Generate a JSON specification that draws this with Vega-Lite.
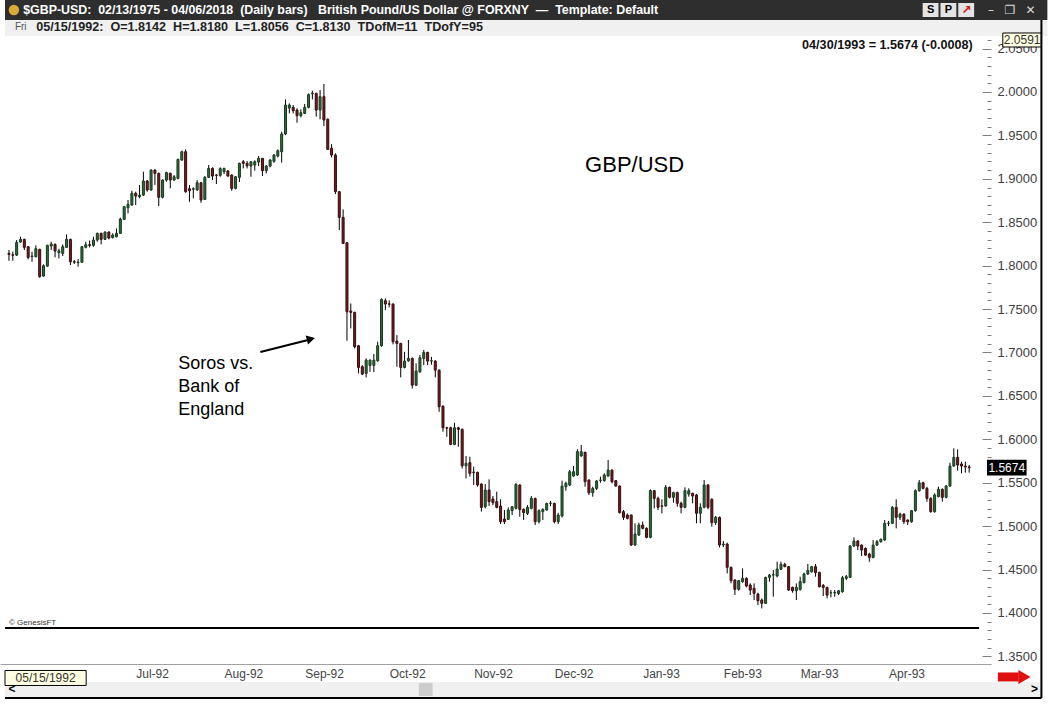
{
"$schema": "https://vega.github.io/schema/vega-lite/v6.json",
"width": 991, "height": 628,
"autosize": {"type": "none"},
"padding": {"left": 0, "top": 36, "right": 62, "bottom": 41},
"background": "#ffffff",
"config": {"view": {"stroke": null}, "font": "Liberation Sans"},
"datasets": {"bars": [
{"t":0,"o":1.8142,"h":1.8180,"l":1.8056,"c":1.8130},
{"t":1,"o":1.8125,"h":1.8161,"l":1.8057,"c":1.8120},
{"t":2,"o":1.8122,"h":1.8295,"l":1.8111,"c":1.8268},
{"t":3,"o":1.8272,"h":1.8333,"l":1.8264,"c":1.8303},
{"t":4,"o":1.8303,"h":1.8310,"l":1.8180,"c":1.8211},
{"t":5,"o":1.8218,"h":1.8226,"l":1.8072,"c":1.8095},
{"t":6,"o":1.8105,"h":1.8161,"l":1.8045,"c":1.8111},
{"t":7,"o":1.8103,"h":1.8234,"l":1.8095,"c":1.8195},
{"t":8,"o":1.8187,"h":1.8195,"l":1.7861,"c":1.7873},
{"t":9,"o":1.7880,"h":1.8015,"l":1.7873,"c":1.7999},
{"t":10,"o":1.7995,"h":1.8241,"l":1.7988,"c":1.8234},
{"t":11,"o":1.8226,"h":1.8276,"l":1.8180,"c":1.8249},
{"t":12,"o":1.8245,"h":1.8257,"l":1.8095,"c":1.8168},
{"t":13,"o":1.8150,"h":1.8195,"l":1.8084,"c":1.8170},
{"t":14,"o":1.8141,"h":1.8245,"l":1.8111,"c":1.8218},
{"t":15,"o":1.8211,"h":1.8360,"l":1.8207,"c":1.8303},
{"t":16,"o":1.8303,"h":1.8310,"l":1.8007,"c":1.8045},
{"t":17,"o":1.8045,"h":1.8065,"l":1.8019,"c":1.8040},
{"t":18,"o":1.8035,"h":1.8076,"l":1.7988,"c":1.8040},
{"t":19,"o":1.8038,"h":1.8226,"l":1.8034,"c":1.8218},
{"t":20,"o":1.8211,"h":1.8276,"l":1.8199,"c":1.8241},
{"t":21,"o":1.8241,"h":1.8290,"l":1.8210,"c":1.8234},
{"t":22,"o":1.8234,"h":1.8333,"l":1.8218,"c":1.8295},
{"t":23,"o":1.8295,"h":1.8380,"l":1.8276,"c":1.8372},
{"t":24,"o":1.8372,"h":1.8380,"l":1.8245,"c":1.8303},
{"t":25,"o":1.8303,"h":1.8395,"l":1.8295,"c":1.8387},
{"t":26,"o":1.8387,"h":1.8395,"l":1.8303,"c":1.8318},
{"t":27,"o":1.8322,"h":1.8372,"l":1.8314,"c":1.8353},
{"t":28,"o":1.8333,"h":1.8429,"l":1.8326,"c":1.8372},
{"t":29,"o":1.8372,"h":1.8552,"l":1.8364,"c":1.8537},
{"t":30,"o":1.8533,"h":1.8687,"l":1.8525,"c":1.8679},
{"t":31,"o":1.8667,"h":1.8756,"l":1.8602,"c":1.8706},
{"t":32,"o":1.8698,"h":1.8863,"l":1.8690,"c":1.8833},
{"t":33,"o":1.8833,"h":1.8852,"l":1.8698,"c":1.8802},
{"t":34,"o":1.8794,"h":1.8929,"l":1.8775,"c":1.8813},
{"t":35,"o":1.8813,"h":1.9082,"l":1.8802,"c":1.8975},
{"t":36,"o":1.8975,"h":1.8986,"l":1.8852,"c":1.8871},
{"t":37,"o":1.8871,"h":1.9109,"l":1.8863,"c":1.9101},
{"t":38,"o":1.9101,"h":1.9109,"l":1.8929,"c":1.9063},
{"t":39,"o":1.9063,"h":1.9071,"l":1.8687,"c":1.8787},
{"t":40,"o":1.8787,"h":1.8994,"l":1.8775,"c":1.8986},
{"t":41,"o":1.8986,"h":1.9082,"l":1.8967,"c":1.9071},
{"t":42,"o":1.9063,"h":1.9071,"l":1.8890,"c":1.8986},
{"t":43,"o":1.8986,"h":1.9044,"l":1.8978,"c":1.9024},
{"t":44,"o":1.9005,"h":1.9232,"l":1.8994,"c":1.9224},
{"t":45,"o":1.9216,"h":1.9324,"l":1.9209,"c":1.9312},
{"t":46,"o":1.9312,"h":1.9339,"l":1.8840,"c":1.8852},
{"t":47,"o":1.8886,"h":1.8928,"l":1.8736,"c":1.8863},
{"t":48,"o":1.8880,"h":1.8902,"l":1.8775,"c":1.8886},
{"t":49,"o":1.8871,"h":1.8986,"l":1.8863,"c":1.8955},
{"t":50,"o":1.8955,"h":1.8963,"l":1.8725,"c":1.8756},
{"t":51,"o":1.8763,"h":1.9032,"l":1.8756,"c":1.9017},
{"t":52,"o":1.9017,"h":1.9159,"l":1.9009,"c":1.9120},
{"t":53,"o":1.9120,"h":1.9132,"l":1.8986,"c":1.9032},
{"t":54,"o":1.9044,"h":1.9055,"l":1.8940,"c":1.9040},
{"t":55,"o":1.9040,"h":1.9132,"l":1.9024,"c":1.9117},
{"t":56,"o":1.9082,"h":1.9128,"l":1.9055,"c":1.9120},
{"t":57,"o":1.9090,"h":1.9101,"l":1.9024,"c":1.9032},
{"t":58,"o":1.9044,"h":1.9051,"l":1.8863,"c":1.8890},
{"t":59,"o":1.8890,"h":1.9032,"l":1.8878,"c":1.9024},
{"t":60,"o":1.9017,"h":1.9186,"l":1.8963,"c":1.9178},
{"t":61,"o":1.9197,"h":1.9216,"l":1.9120,"c":1.9178},
{"t":62,"o":1.9178,"h":1.9205,"l":1.9120,"c":1.9150},
{"t":63,"o":1.9147,"h":1.9201,"l":1.9024,"c":1.9197},
{"t":64,"o":1.9159,"h":1.9213,"l":1.9094,"c":1.9197},
{"t":65,"o":1.9193,"h":1.9262,"l":1.9147,"c":1.9236},
{"t":66,"o":1.9236,"h":1.9240,"l":1.9032,"c":1.9094},
{"t":67,"o":1.9094,"h":1.9159,"l":1.9063,"c":1.9147},
{"t":68,"o":1.9147,"h":1.9228,"l":1.9132,"c":1.9216},
{"t":69,"o":1.9201,"h":1.9286,"l":1.9186,"c":1.9274},
{"t":70,"o":1.9262,"h":1.9339,"l":1.9247,"c":1.9324},
{"t":71,"o":1.9312,"h":1.9543,"l":1.9186,"c":1.9516},
{"t":72,"o":1.9516,"h":1.9915,"l":1.9504,"c":1.9850},
{"t":73,"o":1.9815,"h":1.9869,"l":1.9754,"c":1.9850},
{"t":74,"o":1.9823,"h":1.9850,"l":1.9754,"c":1.9785},
{"t":75,"o":1.9792,"h":1.9812,"l":1.9646,"c":1.9727},
{"t":76,"o":1.9727,"h":1.9800,"l":1.9708,"c":1.9762},
{"t":77,"o":1.9754,"h":1.9862,"l":1.9746,"c":1.9823},
{"t":78,"o":1.9823,"h":1.9984,"l":1.9812,"c":1.9969},
{"t":79,"o":1.9980,"h":2.0015,"l":1.9915,"c":1.9988},
{"t":80,"o":1.9984,"h":1.9992,"l":1.9716,"c":1.9792},
{"t":81,"o":1.9792,"h":2.0023,"l":1.9685,"c":1.9946},
{"t":82,"o":1.9946,"h":2.0092,"l":1.9608,"c":1.9677},
{"t":83,"o":1.9685,"h":1.9696,"l":1.9332,"c":1.9339},
{"t":84,"o":1.9351,"h":1.9400,"l":1.9247,"c":1.9274},
{"t":85,"o":1.9274,"h":1.9293,"l":1.8825,"c":1.8852},
{"t":86,"o":1.8852,"h":1.8859,"l":1.8410,"c":1.8556},
{"t":87,"o":1.8556,"h":1.8648,"l":1.8249,"c":1.8256},
{"t":88,"o":1.8264,"h":1.8272,"l":1.7135,"c":1.7469},
{"t":89,"o":1.7477,"h":1.7565,"l":1.7277,"c":1.7462},
{"t":90,"o":1.7462,"h":1.7469,"l":1.7047,"c":1.7066},
{"t":91,"o":1.7078,"h":1.7085,"l":1.6759,"c":1.6828},
{"t":92,"o":1.6836,"h":1.6855,"l":1.6740,"c":1.6751},
{"t":93,"o":1.6759,"h":1.6932,"l":1.6713,"c":1.6912},
{"t":94,"o":1.6851,"h":1.6920,"l":1.6778,"c":1.6912},
{"t":95,"o":1.6851,"h":1.6982,"l":1.6774,"c":1.6912},
{"t":96,"o":1.6905,"h":1.7124,"l":1.6893,"c":1.7078},
{"t":97,"o":1.7078,"h":1.7623,"l":1.7066,"c":1.7611},
{"t":98,"o":1.7596,"h":1.7623,"l":1.7488,"c":1.7558},
{"t":99,"o":1.7560,"h":1.7600,"l":1.7520,"c":1.7556},
{"t":100,"o":1.7558,"h":1.7565,"l":1.7093,"c":1.7124},
{"t":101,"o":1.7131,"h":1.7200,"l":1.6836,"c":1.7104},
{"t":102,"o":1.7104,"h":1.7112,"l":1.6713,"c":1.6828},
{"t":103,"o":1.6828,"h":1.7008,"l":1.6816,"c":1.6901},
{"t":104,"o":1.6905,"h":1.7143,"l":1.6893,"c":1.6932},
{"t":105,"o":1.6932,"h":1.6943,"l":1.6586,"c":1.6624},
{"t":106,"o":1.6624,"h":1.6874,"l":1.6613,"c":1.6786},
{"t":107,"o":1.6778,"h":1.6970,"l":1.6766,"c":1.6939},
{"t":108,"o":1.6932,"h":1.7028,"l":1.6855,"c":1.7001},
{"t":109,"o":1.7001,"h":1.7008,"l":1.6855,"c":1.6901},
{"t":110,"o":1.6901,"h":1.6950,"l":1.6860,"c":1.6905},
{"t":111,"o":1.6901,"h":1.6912,"l":1.6713,"c":1.6797},
{"t":112,"o":1.6797,"h":1.6805,"l":1.6317,"c":1.6375},
{"t":113,"o":1.6382,"h":1.6390,"l":1.6087,"c":1.6133},
{"t":114,"o":1.6133,"h":1.6144,"l":1.6029,"c":1.6129},
{"t":115,"o":1.6133,"h":1.6144,"l":1.5933,"c":1.5941},
{"t":116,"o":1.5941,"h":1.6190,"l":1.5933,"c":1.6133},
{"t":117,"o":1.6133,"h":1.6144,"l":1.5914,"c":1.6114},
{"t":118,"o":1.6114,"h":1.6125,"l":1.5664,"c":1.5695},
{"t":119,"o":1.5695,"h":1.5808,"l":1.5549,"c":1.5723},
{"t":120,"o":1.5731,"h":1.5800,"l":1.5570,"c":1.5608},
{"t":121,"o":1.5622,"h":1.5685,"l":1.5474,"c":1.5618},
{"t":122,"o":1.5620,"h":1.5627,"l":1.5455,"c":1.5474},
{"t":123,"o":1.5485,"h":1.5493,"l":1.5167,"c":1.5216},
{"t":124,"o":1.5224,"h":1.5485,"l":1.5205,"c":1.5416},
{"t":125,"o":1.5416,"h":1.5539,"l":1.5232,"c":1.5282},
{"t":126,"o":1.5313,"h":1.5347,"l":1.5243,"c":1.5270},
{"t":127,"o":1.5282,"h":1.5397,"l":1.5205,"c":1.5216},
{"t":128,"o":1.5232,"h":1.5309,"l":1.5025,"c":1.5051},
{"t":129,"o":1.5082,"h":1.5186,"l":1.5025,"c":1.5051},
{"t":130,"o":1.5078,"h":1.5216,"l":1.5071,"c":1.5186},
{"t":131,"o":1.5178,"h":1.5232,"l":1.5128,"c":1.5224},
{"t":132,"o":1.5205,"h":1.5493,"l":1.5193,"c":1.5481},
{"t":133,"o":1.5474,"h":1.5481,"l":1.5109,"c":1.5193},
{"t":134,"o":1.5193,"h":1.5205,"l":1.5071,"c":1.5155},
{"t":135,"o":1.5147,"h":1.5243,"l":1.5128,"c":1.5216},
{"t":136,"o":1.5205,"h":1.5347,"l":1.5193,"c":1.5320},
{"t":137,"o":1.5320,"h":1.5328,"l":1.5013,"c":1.5051},
{"t":138,"o":1.5051,"h":1.5193,"l":1.5032,"c":1.5178},
{"t":139,"o":1.5167,"h":1.5205,"l":1.5071,"c":1.5193},
{"t":140,"o":1.5186,"h":1.5270,"l":1.5178,"c":1.5262},
{"t":141,"o":1.5262,"h":1.5290,"l":1.5230,"c":1.5265},
{"t":142,"o":1.5262,"h":1.5270,"l":1.5032,"c":1.5051},
{"t":143,"o":1.5051,"h":1.5155,"l":1.5025,"c":1.5128},
{"t":144,"o":1.5117,"h":1.5524,"l":1.5101,"c":1.5462},
{"t":145,"o":1.5454,"h":1.5512,"l":1.5408,"c":1.5493},
{"t":146,"o":1.5474,"h":1.5646,"l":1.5462,"c":1.5627},
{"t":147,"o":1.5577,"h":1.5693,"l":1.5570,"c":1.5627},
{"t":148,"o":1.5589,"h":1.5885,"l":1.5577,"c":1.5858},
{"t":149,"o":1.5808,"h":1.5935,"l":1.5800,"c":1.5858},
{"t":150,"o":1.5850,"h":1.5858,"l":1.5454,"c":1.5512},
{"t":151,"o":1.5531,"h":1.5539,"l":1.5359,"c":1.5385},
{"t":152,"o":1.5385,"h":1.5455,"l":1.5339,"c":1.5435},
{"t":153,"o":1.5435,"h":1.5531,"l":1.5416,"c":1.5520},
{"t":154,"o":1.5527,"h":1.5570,"l":1.5500,"c":1.5531},
{"t":155,"o":1.5524,"h":1.5608,"l":1.5512,"c":1.5589},
{"t":156,"o":1.5577,"h":1.5762,"l":1.5570,"c":1.5646},
{"t":157,"o":1.5646,"h":1.5654,"l":1.5493,"c":1.5512},
{"t":158,"o":1.5524,"h":1.5531,"l":1.5454,"c":1.5462},
{"t":159,"o":1.5462,"h":1.5470,"l":1.5147,"c":1.5155},
{"t":160,"o":1.5167,"h":1.5186,"l":1.5071,"c":1.5101},
{"t":161,"o":1.5128,"h":1.5147,"l":1.5078,"c":1.5090},
{"t":162,"o":1.5129,"h":1.5129,"l":1.4771,"c":1.4783},
{"t":163,"o":1.4783,"h":1.5032,"l":1.4771,"c":1.4909},
{"t":164,"o":1.4898,"h":1.5040,"l":1.4887,"c":1.5013},
{"t":165,"o":1.5013,"h":1.5052,"l":1.4963,"c":1.4975},
{"t":166,"o":1.4975,"h":1.4986,"l":1.4860,"c":1.4871},
{"t":167,"o":1.4871,"h":1.5424,"l":1.4860,"c":1.5409},
{"t":168,"o":1.5409,"h":1.5417,"l":1.5205,"c":1.5320},
{"t":169,"o":1.5320,"h":1.5340,"l":1.5186,"c":1.5217},
{"t":170,"o":1.5234,"h":1.5309,"l":1.5148,"c":1.5230},
{"t":171,"o":1.5232,"h":1.5474,"l":1.5224,"c":1.5447},
{"t":172,"o":1.5447,"h":1.5455,"l":1.5320,"c":1.5332},
{"t":173,"o":1.5332,"h":1.5397,"l":1.5270,"c":1.5386},
{"t":174,"o":1.5386,"h":1.5397,"l":1.5224,"c":1.5263},
{"t":175,"o":1.5263,"h":1.5282,"l":1.5148,"c":1.5217},
{"t":176,"o":1.5217,"h":1.5447,"l":1.5205,"c":1.5409},
{"t":177,"o":1.5370,"h":1.5436,"l":1.5340,"c":1.5409},
{"t":178,"o":1.5378,"h":1.5386,"l":1.5263,"c":1.5347},
{"t":179,"o":1.5359,"h":1.5370,"l":1.5033,"c":1.5148},
{"t":180,"o":1.5148,"h":1.5263,"l":1.5033,"c":1.5217},
{"t":181,"o":1.5217,"h":1.5532,"l":1.5205,"c":1.5474},
{"t":182,"o":1.5474,"h":1.5486,"l":1.5194,"c":1.5217},
{"t":183,"o":1.5309,"h":1.5320,"l":1.4994,"c":1.5040},
{"t":184,"o":1.5040,"h":1.5117,"l":1.5013,"c":1.5102},
{"t":185,"o":1.5102,"h":1.5110,"l":1.4756,"c":1.4783},
{"t":186,"o":1.4783,"h":1.4830,"l":1.4760,"c":1.4794},
{"t":187,"o":1.4794,"h":1.4810,"l":1.4457,"c":1.4526},
{"t":188,"o":1.4526,"h":1.4533,"l":1.4341,"c":1.4372},
{"t":189,"o":1.4380,"h":1.4387,"l":1.4207,"c":1.4272},
{"t":190,"o":1.4272,"h":1.4380,"l":1.4257,"c":1.4372},
{"t":191,"o":1.4360,"h":1.4514,"l":1.4349,"c":1.4399},
{"t":192,"o":1.4399,"h":1.4410,"l":1.4295,"c":1.4310},
{"t":193,"o":1.4322,"h":1.4341,"l":1.4207,"c":1.4264},
{"t":194,"o":1.4284,"h":1.4341,"l":1.4149,"c":1.4226},
{"t":195,"o":1.4218,"h":1.4234,"l":1.4091,"c":1.4141},
{"t":196,"o":1.4149,"h":1.4168,"l":1.4053,"c":1.4111},
{"t":197,"o":1.4111,"h":1.4418,"l":1.4103,"c":1.4410},
{"t":198,"o":1.4410,"h":1.4449,"l":1.4361,"c":1.4437},
{"t":199,"o":1.4437,"h":1.4495,"l":1.4188,"c":1.4441},
{"t":200,"o":1.4426,"h":1.4591,"l":1.4410,"c":1.4506},
{"t":201,"o":1.4503,"h":1.4591,"l":1.4495,"c":1.4560},
{"t":202,"o":1.4560,"h":1.4579,"l":1.4526,"c":1.4534},
{"t":203,"o":1.4534,"h":1.4541,"l":1.4257,"c":1.4264},
{"t":204,"o":1.4295,"h":1.4303,"l":1.4234,"c":1.4257},
{"t":205,"o":1.4257,"h":1.4341,"l":1.4149,"c":1.4295},
{"t":206,"o":1.4272,"h":1.4418,"l":1.4257,"c":1.4360},
{"t":207,"o":1.4349,"h":1.4464,"l":1.4341,"c":1.4449},
{"t":208,"o":1.4449,"h":1.4564,"l":1.4437,"c":1.4490},
{"t":209,"o":1.4475,"h":1.4540,"l":1.4464,"c":1.4533},
{"t":210,"o":1.4533,"h":1.4564,"l":1.4418,"c":1.4464},
{"t":211,"o":1.4467,"h":1.4475,"l":1.4295,"c":1.4302},
{"t":212,"o":1.4318,"h":1.4333,"l":1.4195,"c":1.4295},
{"t":213,"o":1.4295,"h":1.4302,"l":1.4168,"c":1.4206},
{"t":214,"o":1.4233,"h":1.4264,"l":1.4180,"c":1.4233},
{"t":215,"o":1.4230,"h":1.4264,"l":1.4187,"c":1.4236},
{"t":216,"o":1.4225,"h":1.4264,"l":1.4206,"c":1.4256},
{"t":217,"o":1.4245,"h":1.4425,"l":1.4233,"c":1.4406},
{"t":218,"o":1.4399,"h":1.4437,"l":1.4379,"c":1.4418},
{"t":219,"o":1.4410,"h":1.4782,"l":1.4410,"c":1.4771},
{"t":220,"o":1.4771,"h":1.4871,"l":1.4763,"c":1.4828},
{"t":221,"o":1.4828,"h":1.4840,"l":1.4725,"c":1.4771},
{"t":222,"o":1.4782,"h":1.4790,"l":1.4656,"c":1.4725},
{"t":223,"o":1.4744,"h":1.4755,"l":1.4656,"c":1.4667},
{"t":224,"o":1.4679,"h":1.4694,"l":1.4590,"c":1.4640},
{"t":225,"o":1.4640,"h":1.4840,"l":1.4629,"c":1.4782},
{"t":226,"o":1.4782,"h":1.4840,"l":1.4771,"c":1.4821},
{"t":227,"o":1.4821,"h":1.4859,"l":1.4809,"c":1.4848},
{"t":228,"o":1.4840,"h":1.5070,"l":1.4832,"c":1.5032},
{"t":229,"o":1.5032,"h":1.5060,"l":1.5000,"c":1.5035},
{"t":230,"o":1.5032,"h":1.5232,"l":1.5024,"c":1.5216},
{"t":231,"o":1.5216,"h":1.5309,"l":1.4974,"c":1.5101},
{"t":232,"o":1.5101,"h":1.5155,"l":1.5070,"c":1.5139},
{"t":233,"o":1.5139,"h":1.5147,"l":1.5024,"c":1.5051},
{"t":234,"o":1.5070,"h":1.5078,"l":1.5013,"c":1.5051},
{"t":235,"o":1.5051,"h":1.5186,"l":1.5040,"c":1.5178},
{"t":236,"o":1.5178,"h":1.5424,"l":1.5167,"c":1.5408},
{"t":237,"o":1.5408,"h":1.5531,"l":1.5397,"c":1.5500},
{"t":238,"o":1.5500,"h":1.5512,"l":1.5424,"c":1.5435},
{"t":239,"o":1.5435,"h":1.5454,"l":1.5282,"c":1.5320},
{"t":240,"o":1.5320,"h":1.5332,"l":1.5155,"c":1.5167},
{"t":241,"o":1.5167,"h":1.5378,"l":1.5155,"c":1.5359},
{"t":242,"o":1.5340,"h":1.5454,"l":1.5332,"c":1.5424},
{"t":243,"o":1.5424,"h":1.5435,"l":1.5282,"c":1.5332},
{"t":244,"o":1.5332,"h":1.5474,"l":1.5320,"c":1.5462},
{"t":245,"o":1.5462,"h":1.5731,"l":1.5454,"c":1.5692},
{"t":246,"o":1.5692,"h":1.5896,"l":1.5685,"c":1.5792},
{"t":247,"o":1.5792,"h":1.5884,"l":1.5639,"c":1.5704},
{"t":248,"o":1.5716,"h":1.5742,"l":1.5608,"c":1.5692},
{"t":249,"o":1.5692,"h":1.5742,"l":1.5616,"c":1.5682},
{"t":250,"o":1.5682,"h":1.5704,"l":1.5616,"c":1.5674}
]},
"layer": [
{"data": {"values": [{}]}, "mark": {"type": "rect", "color": "#2e2e2e"},
 "encoding": {"x": {"datum": -1.031}, "x2": {"datum": 270.36}, "y": {"datum": 2.10596}, "y2": {"datum": 2.08292}}},
{"data": {"values": [{}]}, "mark": {"type": "rect", "color": "#f0f0f0"},
 "encoding": {"x": {"datum": -1.031}, "x2": {"datum": 270.36}, "y": {"datum": 2.08292}, "y2": {"datum": 2.06449}}},
{"data": {"values": [{}]}, "mark": {"type": "rect", "color": "#f0f0f0"},
 "encoding": {"x": {"datum": -1.031}, "x2": {"datum": 268.81}, "y": {"datum": 1.32052}, "y2": {"datum": 1.30325}}},
{"data": {"values": [{}]}, "mark": {"type": "rect", "color": "#cdcdcd"},
 "encoding": {"x": {"datum": 106.7}, "x2": {"datum": 110.3}, "y": {"datum": 1.31937}, "y2": {"datum": 1.30440}}},
{"data": {"name": "bars"}, "mark": {"type": "rule", "color": "#000000", "strokeWidth": 1},
 "encoding": {
  "x": {"field": "t", "type": "quantitative", "scale": {"domain": [-1.0309, 254.381], "nice": false, "zero": false},
   "axis": {"values": [33,56,77,99,121,142,165,186,206,229], "tickCount": 50,
    "labelExpr": "datum.value==33?'Jul-92':datum.value==56?'Aug-92':datum.value==77?'Sep-92':datum.value==99?'Oct-92':datum.value==121?'Nov-92':datum.value==142?'Dec-92':datum.value==165?'Jan-93':datum.value==186?'Feb-93':datum.value==206?'Mar-93':'Apr-93'",
    "labelAlign": "left", "labelBaseline": "middle", "labelPadding": 9, "labelDx": 1, "ticks": false,
    "domain": true, "domainColor": "#a0a0a0", "domainWidth": 1, "grid": false,
    "labelFont": "Liberation Sans", "labelFontSize": 12, "labelColor": "#444444",
    "labelFlush": false, "labelOverlap": false, "title": null}},
  "y": {"field": "l", "type": "quantitative", "scale": {"domain": [1.34124, 2.06449], "nice": false, "zero": false},
   "axis": {"orient": "right", "tickCount": 300,
    "values": [1.35,1.36,1.37,1.38,1.39,1.4,1.41,1.42,1.43,1.44,1.45,1.46,1.47,1.48,1.49,1.5,1.51,1.52,1.53,1.54,1.55,1.56,1.57,1.58,1.59,1.6,1.61,1.62,1.63,1.64,1.65,1.66,1.67,1.68,1.69,1.7,1.71,1.72,1.73,1.74,1.75,1.76,1.77,1.78,1.79,1.8,1.81,1.82,1.83,1.84,1.85,1.86,1.87,1.88,1.89,1.9,1.91,1.92,1.93,1.94,1.95,1.96,1.97,1.98,1.99,2.0,2.01,2.02,2.03,2.04,2.05,2.06],
    "labelExpr": "abs(datum.value*20-round(datum.value*20))<0.01 ? format(datum.value, '.4f') : ''",
    "tickSize": {"condition": {"test": "abs(datum.value*20-round(datum.value*20))<0.01", "value": -9}, "value": -4},
    "tickColor": "#808080", "tickWidth": 1, "domain": false, "grid": false,
    "labelFont": "Liberation Sans", "labelFontSize": 13, "labelColor": "#404040",
    "labelPadding": 15, "labelFlush": false, "labelOverlap": false, "labelBound": false, "title": null}},
  "y2": {"field": "h"}}},
{"data": {"name": "bars"}, "mark": {"type": "bar", "width": 2, "strokeWidth": 1},
 "encoding": {
  "x": {"field": "t", "type": "quantitative"},
  "y": {"field": "o", "type": "quantitative"},
  "y2": {"field": "c"},
  "color": {"condition": {"test": "datum.c >= datum.o", "value": "#2f6b3a"}, "value": "#6e1f22"},
  "stroke": {"condition": {"test": "datum.c >= datum.o", "value": "#173a1e"}, "value": "#3a0c0e"}}},
{"data": {"values": [{}]}, "mark": {"type": "rule", "color": "#000000", "strokeWidth": 2},
 "encoding": {"x": {"datum": -1.031}, "x2": {"datum": 252.58}, "y": {"datum": 1.3827}}},
{"data": {"values": [{}]}, "mark": {"type": "text", "fontSize": 22, "align": "center", "baseline": "middle", "color": "#000000"},
 "encoding": {"x": {"datum": 162.9}, "y": {"datum": 1.91593}, "text": {"value": "GBP/USD"}}},
{"data": {"values": [{}]}, "mark": {"type": "text", "fontSize": 18, "align": "left", "baseline": "middle", "lineHeight": 23, "color": "#000000"},
 "encoding": {"x": {"datum": 44.07}, "y": {"datum": 1.68675}, "text": {"value": ["Soros vs.", "Bank of", "England"]}}},
{"data": {"values": [{}]}, "mark": {"type": "rule", "color": "#000000", "strokeWidth": 2},
 "encoding": {"x": {"datum": 65.46}, "x2": {"datum": 78.9}, "y": {"datum": 1.70056}, "y2": {"datum": 1.71554}}},
{"data": {"values": [{}]}, "mark": {"type": "point", "shape": "triangle-right", "filled": true, "size": 90, "angle": 346, "color": "#000000", "opacity": 1},
 "encoding": {"x": {"datum": 78.6}, "y": {"datum": 1.71554}}},
{"data": {"values": [{}]}, "mark": {"type": "text", "fontSize": 12.6, "fontWeight": "bold", "align": "right", "baseline": "middle", "color": "#111111"},
 "encoding": {"x": {"datum": 250.9}, "y": {"datum": 2.05413}, "text": {"value": "04/30/1993 = 1.5674 (-0.0008)"}}},
{"data": {"values": [{}]}, "mark": {"type": "rect", "color": "#ffffe1", "stroke": "#000000", "strokeWidth": 1},
 "encoding": {"x": {"datum": 258.76}, "x2": {"datum": 268.81}, "y": {"datum": 2.06795}, "y2": {"datum": 2.05183}}},
{"data": {"values": [{}]}, "mark": {"type": "text", "fontSize": 12, "align": "center", "baseline": "middle", "color": "#333333"},
 "encoding": {"x": {"datum": 263.79}, "y": {"datum": 2.05989}, "text": {"value": "2.0591"}}},
{"data": {"values": [{}]}, "mark": {"type": "rect", "color": "#000000"},
 "encoding": {"x": {"datum": 254.64}, "x2": {"datum": 264.95}, "y": {"datum": 1.5766}, "y2": {"datum": 1.5582}}},
{"data": {"values": [{}]}, "mark": {"type": "text", "fontSize": 12, "align": "center", "baseline": "middle", "color": "#ffffff"},
 "encoding": {"x": {"datum": 259.79}, "y": {"datum": 1.5674}, "text": {"value": "1.5674"}}},
{"data": {"values": [{}]}, "mark": {"type": "text", "fontSize": 8, "align": "left", "baseline": "middle", "color": "#333333"},
 "encoding": {"x": {"datum": 0}, "y": {"datum": 1.38901}, "text": {"value": "© GenesisFT"}}},
{"data": {"values": [{}]}, "mark": {"type": "rect", "color": "#ffffe1", "stroke": "#000000", "strokeWidth": 1},
 "encoding": {"x": {"datum": -1.031}, "x2": {"datum": 20.10}, "y": {"datum": 1.33379}, "y2": {"datum": 1.31651}}},
{"data": {"values": [{}]}, "mark": {"type": "text", "fontSize": 12, "align": "center", "baseline": "middle", "color": "#333333"},
 "encoding": {"x": {"datum": 9.536}, "y": {"datum": 1.32515}, "text": {"value": "05/15/1992"}}},
{"data": {"values": [{}]}, "mark": {"type": "text", "fontSize": 12, "fontWeight": "bold", "align": "center", "baseline": "middle", "color": "#000000"},
 "encoding": {"x": {"datum": 0.773}, "y": {"datum": 1.31188}, "text": {"value": "<"}}},
{"data": {"values": [{}]}, "mark": {"type": "text", "fontSize": 12, "fontWeight": "bold", "align": "center", "baseline": "middle", "color": "#000000"},
 "encoding": {"x": {"datum": 267.01}, "y": {"datum": 1.31188}, "text": {"value": ">"}}},
{"data": {"values": [{}]}, "mark": {"type": "rect", "color": "#e01010"},
 "encoding": {"x": {"datum": 257.47}, "x2": {"datum": 262.89}, "y": {"datum": 1.33149}, "y2": {"datum": 1.32113}}},
{"data": {"values": [{}]}, "mark": {"type": "point", "shape": "triangle-right", "filled": true, "size": 200, "color": "#e01010", "opacity": 1},
 "encoding": {"x": {"datum": 264.4}, "y": {"datum": 1.32631}}},
{"data": {"values": [{}]}, "mark": {"type": "point", "shape": "circle", "filled": true, "size": 110, "color": "#d9a93a", "opacity": 1},
 "encoding": {"x": {"datum": 1.289}, "y": {"datum": 2.09444}}},
{"data": {"values": [{}]}, "mark": {"type": "text", "fontSize": 12.4, "fontWeight": "bold", "align": "left", "baseline": "middle", "color": "#ffffff"},
 "encoding": {"x": {"datum": 3.7}, "y": {"datum": 2.09444}, "text": {"value": "$GBP-USD:\u00a0 02/13/1975 - 04/06/2018\u00a0 (Daily bars)\u00a0\u00a0 British Pound/US Dollar @ FORXNY\u00a0 —\u00a0 Template: Default"}}},
{"data": {"values": [{}]}, "mark": {"type": "rect", "color": "#e4e4e4"},
 "encoding": {"x": {"datum": 237.89}, "x2": {"datum": 242.01}, "y": {"datum": 2.10250}, "y2": {"datum": 2.08638}}},
{"data": {"values": [{}]}, "mark": {"type": "rect", "color": "#e4e4e4"},
 "encoding": {"x": {"datum": 242.53}, "x2": {"datum": 246.65}, "y": {"datum": 2.10250}, "y2": {"datum": 2.08638}}},
{"data": {"values": [{}]}, "mark": {"type": "rect", "color": "#e4e4e4"},
 "encoding": {"x": {"datum": 247.16}, "x2": {"datum": 251.29}, "y": {"datum": 2.10250}, "y2": {"datum": 2.08638}}},
{"data": {"values": [{}]}, "mark": {"type": "text", "fontSize": 11, "fontWeight": "bold", "align": "center", "baseline": "middle", "color": "#000000"},
 "encoding": {"x": {"datum": 239.95}, "y": {"datum": 2.09444}, "text": {"value": "S"}}},
{"data": {"values": [{}]}, "mark": {"type": "text", "fontSize": 11, "fontWeight": "bold", "align": "center", "baseline": "middle", "color": "#000000"},
 "encoding": {"x": {"datum": 244.59}, "y": {"datum": 2.09444}, "text": {"value": "P"}}},
{"data": {"values": [{}]}, "mark": {"type": "text", "fontSize": 12, "font": "DejaVu Sans", "fontWeight": "bold", "align": "center", "baseline": "middle", "color": "#cc1111"},
 "encoding": {"x": {"datum": 249.23}, "y": {"datum": 2.09444}, "text": {"value": "↗"}}},
{"data": {"values": [{}]}, "mark": {"type": "text", "fontSize": 12, "font": "DejaVu Sans", "align": "center", "baseline": "middle", "color": "#dddddd"},
 "encoding": {"x": {"datum": 255.67}, "y": {"datum": 2.09444}, "text": {"value": "–"}}},
{"data": {"values": [{}]}, "mark": {"type": "text", "fontSize": 12, "font": "DejaVu Sans", "align": "center", "baseline": "middle", "color": "#dddddd"},
 "encoding": {"x": {"datum": 260.57}, "y": {"datum": 2.09444}, "text": {"value": "❐"}}},
{"data": {"values": [{}]}, "mark": {"type": "text", "fontSize": 12, "font": "DejaVu Sans", "align": "center", "baseline": "middle", "color": "#dddddd"},
 "encoding": {"x": {"datum": 265.98}, "y": {"datum": 2.09444}, "text": {"value": "✕"}}},
{"data": {"values": [{}]}, "mark": {"type": "text", "fontSize": 10, "align": "left", "baseline": "middle", "color": "#555555"},
 "encoding": {"x": {"datum": 1.546}, "y": {"datum": 2.07486}, "text": {"value": "Fri"}}},
{"data": {"values": [{}]}, "mark": {"type": "text", "fontSize": 12.6, "fontWeight": "bold", "align": "left", "baseline": "middle", "color": "#222222"},
 "encoding": {"x": {"datum": 7.1}, "y": {"datum": 2.07486}, "text": {"value": "05/15/1992:\u00a0 O=1.8142\u00a0 H=1.8180\u00a0 L=1.8056\u00a0 C=1.8130\u00a0 TDofM=11\u00a0 TDofY=95"}}},
{"data": {"values": [{}]}, "mark": {"type": "rule", "color": "#000000", "strokeWidth": 2},
 "encoding": {"x": {"datum": 268.81}, "y": {"datum": 2.08292}, "y2": {"datum": 1.30209}}},
{"data": {"values": [{}]}, "mark": {"type": "rule", "color": "#000000", "strokeWidth": 2},
 "encoding": {"x": {"datum": -1.031}, "x2": {"datum": 268.81}, "y": {"datum": 1.30209}}}
]
}
